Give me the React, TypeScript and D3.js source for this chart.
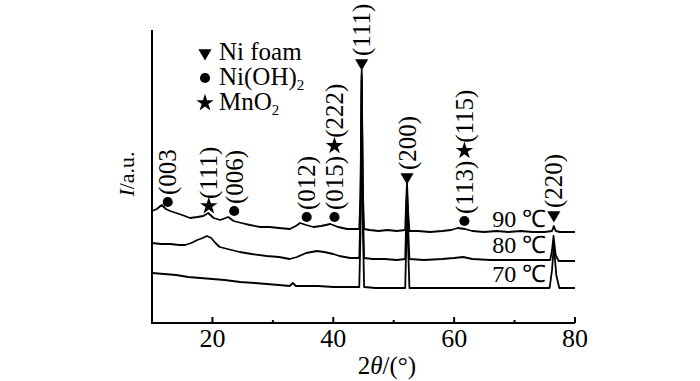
import * as d3 from "d3";
import { useMemo } from "react";

const WIDTH = 700;
const HEIGHT = 381;
const PLOT = { left: 152, right: 575, top: 30, bottom: 323 };
const FONT = { fontFamily: "'Liberation Serif'" };

// x-ray diffraction patterns, [2θ, intensity]
const XRD_90: [number, number][] = [
  [10, 1120], [10.8, 1140], [11.6, 1180], [12.3, 1140], [13, 1120], [14, 1100],
  [15, 1080], [16.3, 1050], [17.5, 1060], [18.5, 1070], [19.3, 1100], [20.2, 1050],
  [21.3, 1030], [22.6, 1060], [23.5, 1020], [24.8, 1000], [26.2, 980], [27.9, 960],
  [29.5, 960], [31, 950], [32.8, 940], [33.8, 970], [34.5, 1000], [35.5, 980],
  [36.7, 960], [38, 970], [39.5, 990], [40.8, 960], [42.3, 940], [44.3, 940],
  [44.5, 1300], [44.7, 2530], [44.9, 1300], [45.1, 940], [46, 930], [47.5, 920],
  [49, 930], [50.5, 920], [51.9, 930], [52.05, 1200], [52.2, 1400], [52.4, 1100],
  [52.6, 920], [54, 920], [56, 910], [58, 920], [59.5, 930], [60.6, 950],
  [61.8, 940], [63, 920], [65, 910], [67, 920], [69, 910], [71, 920], [73, 910],
  [75, 910], [76.2, 920], [76.5, 970], [76.8, 920], [77.5, 910], [79, 910], [80, 910],
];

const XRD_80: [number, number][] = [
  [10, 800], [11.5, 790], [13, 790], [14.5, 780], [15.5, 780], [16.5, 800],
  [17.5, 830], [18.4, 850], [19.1, 870], [19.8, 850], [20.5, 800], [21.2, 760],
  [22.5, 740], [24.5, 710], [26.5, 690], [29, 670], [31, 660], [32.8, 640],
  [34, 660], [35.5, 700], [37.3, 720], [38.5, 710], [40, 690], [41, 670],
  [42.8, 650], [44.3, 650], [44.5, 1100], [44.7, 2480], [44.9, 1150], [45.1, 650],
  [46.5, 640], [48.5, 640], [50.5, 630], [51.9, 640], [52.05, 980], [52.2, 1330],
  [52.4, 930], [52.6, 640], [55, 630], [58, 640], [60, 650], [61.5, 660],
  [63, 640], [66, 630], [70, 630], [73, 630], [75.9, 630], [76.2, 730],
  [76.45, 870], [76.8, 680], [77.3, 620], [80, 620],
];

const XRD_70: [number, number][] = [
  [10, 500], [12, 490], [14, 480], [16, 460], [18, 450], [20, 440], [22, 430],
  [24.6, 410], [27, 400], [29, 390], [31, 380], [32.8, 370], [33.3, 400],
  [33.8, 370], [35.5, 370], [37.5, 370], [40, 360], [42.8, 360], [44.3, 360],
  [44.5, 900], [44.7, 2430], [44.9, 950], [45.1, 360], [47, 350], [50, 350],
  [51.9, 350], [52.05, 730], [52.2, 1280], [52.4, 730], [52.6, 350], [56, 350],
  [60, 350], [64, 350], [68, 350], [72, 350], [75.8, 350], [76.2, 530],
  [76.5, 780], [76.9, 480], [77.4, 350], [80, 350],
];

const SERIES = [XRD_90, XRD_80, XRD_70];

// temperature labels: text, 2θ where it starts, baseline intensity
const TEMP_LABELS = ["90 ℃", "80 ℃", "70 ℃"];
const TEMP_POS = [66.3, 66.3, 66.3];
const TEMP_LEVEL = [960, 700, 410];

// peak annotations: 2θ, marker intensity, marker + rotated label pieces
type Mark = "tri" | "dot" | "star";
const PEAK_POS = [12.6, 19.4, 23.6, 35.6, 40.2, 44.7, 52.2, 61.7, 76.5];
const PEAK_LEVEL = [1210, 1170, 1120, 1060, 1060, 2600, 1460, 1020, 1080];
const PEAK_MARK: Mark[] = ["dot", "star", "dot", "dot", "dot", "tri", "tri", "dot", "tri"];
const PEAK_TEXT: (string | Mark)[][] = [
  ["(003"],
  ["(111)"],
  ["(006)"],
  ["(012)"],
  ["(015)", "star", "(222)"],
  ["(111)"],
  ["(200)"],
  ["(113)", "star", "(115)"],
  ["(220)"],
];

const LEGEND_MARK: Mark[] = ["tri", "dot", "star"];
const LEGEND_NAME = ["Ni foam", "Ni(OH)", "MnO"];
const LEGEND_SUB = ["", "2", "2"];

const X_MAJOR = [20, 40, 60, 80];
const X_MINOR = [30, 50, 70];

const LABEL_FONT = 25;

function markerPath(m: Mark) {
  if (m === "tri") return d3.symbol(d3.symbolTriangle, 75)()!;
  if (m === "star") return d3.symbol(d3.symbolStar, 95)()!;
  return d3.symbol(d3.symbolCircle, 80)()!;
}

function Marker({ m, x, y }: { m: Mark; x: number; y: number }) {
  const rot = m === "tri" ? " rotate(180)" : "";
  return <path d={markerPath(m)} transform={`translate(${x},${y})${rot}`} fill="#000" />;
}

export default function App() {
  const x = d3.scaleLinear().domain([10, 80]).range([PLOT.left, PLOT.right]);
  const y = d3.scaleLinear().domain([0, 2930]).range([PLOT.bottom, PLOT.top]);

  const line = d3
    .line<[number, number]>()
    .x((d) => x(d[0]))
    .y((d) => y(d[1]));

  const measure = useMemo(() => {
    const ctx = document.createElement("canvas").getContext("2d")!;
    ctx.font = `${LABEL_FONT}px 'Liberation Serif'`;
    return (s: string) => ctx.measureText(s).width;
  }, []);

  return (
    <svg
      width={WIDTH}
      height={HEIGHT}
      style={{ position: "absolute", left: 0, top: 0, background: "#fff" }}
    >
      {/* curves */}
      {SERIES.map((s, i) => (
        <path key={i} d={line(s)!} fill="none" stroke="#000" strokeWidth={1.8} strokeLinejoin="round" />
      ))}

      {/* axes */}
      <path
        d={`M${PLOT.left},${PLOT.top}V${PLOT.bottom}H${PLOT.right}`}
        fill="none"
        stroke="#000"
        strokeWidth={2}
      />
      {X_MAJOR.map((t) => (
        <g key={t}>
          <line x1={x(t)} x2={x(t)} y1={PLOT.bottom} y2={PLOT.bottom - 6} stroke="#000" strokeWidth={2} />
          <text x={x(t)} y={PLOT.bottom + 24} textAnchor="middle" fontSize={26} style={FONT}>
            {t}
          </text>
        </g>
      ))}
      {X_MINOR.map((t) => (
        <line key={t} x1={x(t)} x2={x(t)} y1={PLOT.bottom} y2={PLOT.bottom - 3} stroke="#000" strokeWidth={2} />
      ))}
      <text x={387} y={374} textAnchor="middle" fontSize={25} style={FONT}>
        2<tspan fontStyle="italic">θ</tspan>/(°)
      </text>
      <text transform="translate(134,174) rotate(-90)" textAnchor="middle" fontSize={22} style={FONT}>
        <tspan fontStyle="italic">I</tspan>/a.u.
      </text>

      {/* legend */}
      {LEGEND_MARK.map((m, i) => (
        <g key={m}>
          <Marker m={m} x={205} y={53 + i * 25} />
          <text x={219} y={60 + i * 25} fontSize={25} style={FONT}>
            {LEGEND_NAME[i]}
            {LEGEND_SUB[i] && (
              <tspan fontSize={15} dy={5}>
                {LEGEND_SUB[i]}
              </tspan>
            )}
          </text>
        </g>
      ))}

      {/* temperatures */}
      {TEMP_LABELS.map((t, i) => (
        <text key={t} x={x(TEMP_POS[i])} y={y(TEMP_LEVEL[i])} fontSize={24} style={FONT}>
          {t}
        </text>
      ))}

      {/* peak annotations */}
      {PEAK_POS.map((p, i) => {
        const px = x(p);
        const py = y(PEAK_LEVEL[i]);
        let cursor = py - 7;
        const parts: JSX.Element[] = [];
        PEAK_TEXT[i].forEach((seg, j) => {
          if (seg === "tri" || seg === "dot" || seg === "star") {
            cursor -= 10;
            parts.push(<Marker key={j} m={seg} x={px} y={cursor} />);
            cursor -= 8;
          } else {
            parts.push(
              <text
                key={j}
                transform={`translate(${px},${cursor}) rotate(-90)`}
                dominantBaseline="central"
                fontSize={LABEL_FONT}
                style={FONT}
              >
                {seg}
              </text>,
            );
            cursor -= measure(seg);
          }
        });
        return (
          <g key={i}>
            <Marker m={PEAK_MARK[i]} x={px} y={py} />
            {parts}
          </g>
        );
      })}
    </svg>
  );
}
